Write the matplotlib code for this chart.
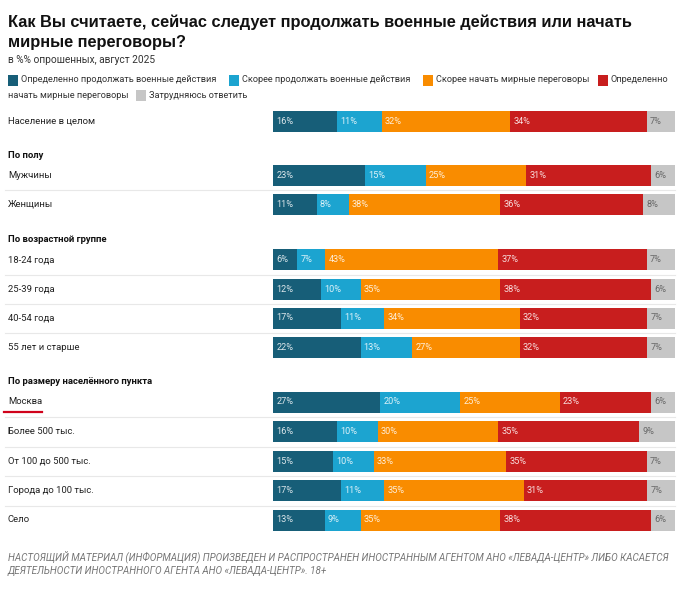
import matplotlib
matplotlib.use("Agg")
import matplotlib.pyplot as plt
from matplotlib.patches import Rectangle
import numpy as np

# data, % of respondents, August 2025
categories = ["Определенно продолжать военные действия",
              "Скорее продолжать военные действия",
              "Скорее начать мирные переговоры",
              "Определенно начать мирные переговоры",
              "Затрудняюсь ответить"]
colors = ["#175e78", "#1ca4d0", "#f98c00", "#c81e1e", "#c6c6c6"]

row_labels = ["Население в целом",
              "Мужчины", "Женщины",
              "18-24 года", "25-39 года", "40-54 года", "55 лет и старше",
              "Москва", "Более 500 тыс.", "От 100 до 500 тыс.",
              "Города до 100 тыс.", "Село"]
definitely_continue = [16, 23, 11, 6, 12, 17, 22, 27, 16, 15, 17, 13]
rather_continue     = [11, 15, 8, 7, 10, 11, 13, 20, 10, 10, 11, 9]
rather_negotiate    = [32, 25, 38, 43, 35, 34, 27, 25, 30, 33, 35, 35]
definitely_negotiate = [34, 31, 36, 37, 38, 32, 32, 23, 35, 35, 31, 38]
hard_to_say         = [7, 6, 8, 7, 6, 7, 7, 6, 9, 7, 7, 6]

group_headers = ["По полу", "По возрастной группе", "По размеру населённого пункта"]

# layout (pixel rows, top-down)
row_y = [121, 175.5, 204.5, 259.5, 289, 318, 347.5, 402, 431.5, 461, 490.5, 520]
header_y = [156, 240, 382]
sep_y = [190, 274.5, 303.5, 333, 417, 446.5, 476, 505.5]
W, H = 685, 598
BAR_L, BAR_R = 273, 675
BAR_H = 21

fig = plt.figure(figsize=(W / 100, H / 100), dpi=100)
fig.patch.set_facecolor("white")

# overlay axes in pixel coords for texts
tx = fig.add_axes([0, 0, 1, 1])
tx.set_xlim(0, W)
tx.set_ylim(H, 0)
tx.axis("off")

# bar axes, x = share of row total
bx = fig.add_axes([BAR_L / W, 0, (BAR_R - BAR_L) / W, 1])
bx.set_xlim(0, 1)
bx.set_ylim(H, 0)
bx.axis("off")

font = "Roboto"
title_font = "Liberation Sans"

series = np.array([definitely_continue, rather_continue, rather_negotiate,
                   definitely_negotiate, hard_to_say], dtype=float)
totals = series.sum(axis=0)
shares = series / totals
left = np.zeros(len(row_labels))
for k in range(len(categories)):
    bx.barh(row_y, shares[k], left=left, height=BAR_H, color=colors[k],
            edgecolor="none")
    for i in range(len(row_labels)):
        tc = "#666666" if k == 4 else "white"
        al = 1.0 if k == 4 else 0.85
        bx.text(left[i] + 0.008, row_y[i], "%d%%" % series[k][i], color=tc,
                alpha=al, fontsize=6.6, family=font, va="center", ha="left")
    left += shares[k]

# separators
for y in sep_y:
    tx.plot([5, BAR_R], [y, y], color="#e8e8e8", lw=0.8, zorder=0)

# row labels
for lab, y in zip(row_labels, row_y):
    tx.text(8, y, lab, fontsize=6.8, family=font, color="#222222", va="center")
for lab, y in zip(group_headers, header_y):
    tx.text(8, y, lab, fontsize=6.8, family=font, weight="bold", color="#111111",
            va="center")
# red underline under Moscow
tx.plot([4, 42], [411.5, 411.5], color="#d0021b", lw=1.6)

# title
tx.text(8, 14, "Как Вы считаете, сейчас следует продолжать военные действия или начать\nмирные переговоры?",
        fontsize=11.8, family=title_font, weight="bold", color="#111111",
        va="top", ha="left", linespacing=1.45)
tx.text(8, 60, "в %% опрошенных, август 2025", fontsize=7.3, family=font,
        color="#333333", va="center")

# legend (wrapped like the original)
leg_items = [(8, 80, 0, categories[0]), (229, 80, 1, categories[1]),
             (423, 80, 2, categories[2]), (598, 80, 3, "Определенно")]
for x, y, k, lab in leg_items:
    tx.add_patch(Rectangle((x, y - 5.5), 10, 11, color=colors[k], lw=0))
    tx.text(x + 13, y, lab, fontsize=6.6, family=font, color="#333333", va="center")
tx.text(8, 95, "начать мирные переговоры", fontsize=6.6, family=font,
        color="#333333", va="center")
tx.add_patch(Rectangle((136, 95 - 5.5), 10, 11, color=colors[4], lw=0))
tx.text(149, 95, categories[4], fontsize=6.6, family=font, color="#333333",
        va="center")

# footer
tx.text(8, 557, "НАСТОЯЩИЙ МАТЕРИАЛ (ИНФОРМАЦИЯ) ПРОИЗВЕДЕН И РАСПРОСТРАНЕН ИНОСТРАННЫМ АГЕНТОМ АНО «ЛЕВАДА-ЦЕНТР» ЛИБО КАСАЕТСЯ",
        fontsize=7.15, family=font, style="italic", color="#777777", va="center")
tx.text(8, 571, "ДЕЯТЕЛЬНОСТИ ИНОСТРАННОГО АГЕНТА АНО «ЛЕВАДА-ЦЕНТР». 18+",
        fontsize=7.15, family=font, style="italic", color="#777777", va="center")

plt.savefig("out.png", dpi=100, facecolor="white")
